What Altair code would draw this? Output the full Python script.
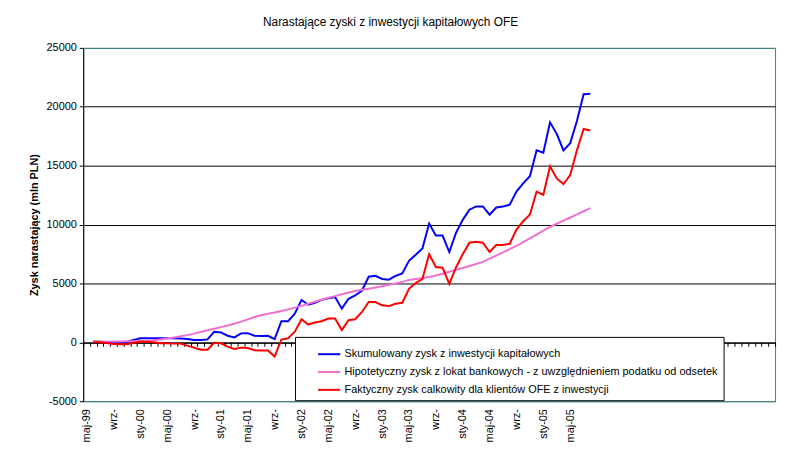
import altair as alt
import pandas as pd

title_text = "Narastające zyski z inwestycji kapitałowych OFE"
y_title = "Zysk narastający (mln PLN)"

series_names = [
    "Skumulowany zysk z inwestycji kapitałowych",
    "Hipotetyczny zysk z lokat bankowych - z uwzględnieniem podatku od odsetek",
    "Faktyczny zysk calkowity dla klientów OFE z inwestycji",
]
series_colors = ["#0000FF", "#F070D0", "#FF0000"]

# category labels every 4th month starting at maj-99 (index 0)
tick_labels = ["maj-99", "wrz-", "sty-00", "maj-00", "wrz-", "sty-01", "maj-01",
               "wrz-", "sty-02", "maj-02", "wrz-", "sty-03", "maj-03", "wrz-",
               "sty-04", "maj-04", "wrz-", "sty-05", "maj-05"]
n_categories = 103
first_index = 1  # first month with values

blue = [60, 60, 30, 0, 0, 30, 200, 340, 340, 340, 340, 340, 340, 330, 280,
        200, 200, 250, 900, 840, 560, 420, 760, 780, 560, 530, 560, 280, 1790,
        1790, 2440, 3600, 3190, 3360, 3610, 3750, 3840, 2860, 3700, 3980, 4400,
        5570, 5650, 5380, 5320, 5650, 5850, 6920, 7430, 7970, 10080, 9070, 9070,
        7670, 9300, 10400, 11260, 11540, 11540, 10840, 11450, 11540, 11680,
        12800, 13500, 14110, 16300, 16100, 18680, 17700, 16300, 16900, 18800,
        21060, 21110]

pink = [50, 55, 60, 65, 75, 85, 95, 105, 120, 170, 240, 320, 410, 510, 610,
        740, 880, 1030, 1160, 1290, 1430, 1580, 1760, 1950, 2150, 2300, 2430,
        2530, 2660, 2800, 2950, 3100, 3280, 3450, 3620, 3780, 3920, 4080, 4230,
        4360, 4460, 4550, 4650, 4760, 4880, 5000, 5130, 5300, 5380, 5440, 5540,
        5670, 5820, 5990, 6150, 6310, 6480, 6650, 6830, 7100, 7370, 7640, 7910,
        8180, 8500, 8830, 9150, 9480, 9800, 10070, 10340, 10600, 10870, 11130,
        11400]

red = [56, 0, -60, -140, -170, -170, -30, 56, 56, 0, -80, -80, -110, -110,
       -280, -450, -620, -620, -30, -80, -360, -560, -450, -480, -670, -700,
       -700, -1200, 240, 340, 900, 1960, 1510, 1680, 1790, 2020, 2020, 1040,
       1880, 1960, 2580, 3420, 3420, 3140, 3080, 3280, 3360, 4540, 5030, 5380,
       7480, 6400, 6330, 4960, 6360, 7480, 8460, 8540, 8460, 7670, 8260, 8260,
       8370, 9580, 10280, 10840, 12800, 12520, 14950, 13920, 13440, 14200,
       16300, 18120, 17980]

y_ticks = [-5000, 0, 5000, 10000, 15000, 20000, 25000]

rows = []
for name, vals in zip(series_names, [blue, pink, red]):
    for k, v in enumerate(vals):
        rows.append({"idx": first_index + k, "series": name, "value": v})
df = pd.DataFrame(rows)

label_array = "[" + ",".join("'" + t + "'" for t in tick_labels) + "]"
label_expr = (f"(datum.value % 4 == 0 && datum.value / 4 < {len(tick_labels)}) ? "
              f"{label_array}[datum.value / 4] : ''")

FONT = "Liberation Sans"
BORDER = "#3F7F7F"

x_enc = alt.X(
    "idx:O",
    scale=alt.Scale(type="band", domain=list(range(n_categories)),
                    paddingInner=0, paddingOuter=0),
    bandPosition=0.5,
    axis=alt.Axis(
        title=None, offset=-59.5, tickBand="extent", tickSize=4,
        tickColor="black", domainColor="black", domainWidth=1, tickWidth=1,
        labelAngle=270, labelAlign="right", labelBaseline="middle",
        labelPadding=63, labelExpr=label_expr, labelOverlap=False,
        labelFont=FONT, labelFontSize=11, labelColor="black", grid=False,
    ),
)

y_enc = alt.Y(
    "value:Q",
    scale=alt.Scale(domain=[-5000, 25000], nice=False, zero=False),
    axis=alt.Axis(
        title=y_title, values=y_ticks, tickSize=4, tickColor="black",
        domainColor="black", labelFont=FONT, labelFontSize=11,
        labelColor="black", labelPadding=3, labelExpr="'' + datum.value",
        titleFont=FONT, titleFontSize=11,
        titleFontWeight="bold", titleColor="black", titlePadding=7,
        grid=True,
        gridColor={"condition": {"test": "datum.value == 25000 || datum.value == -5000",
                                 "value": BORDER},
                   "value": "black"},
        gridWidth=1,
    ),
)

chart = alt.Chart(df).mark_line(strokeWidth=2).encode(
    x=x_enc,
    y=y_enc,
    color=alt.Color(
        "series:N",
        scale=alt.Scale(domain=series_names, range=series_colors),
        legend=alt.Legend(
            title=None, orient="none", legendX=214, legendY=292,
            fillColor="white", strokeColor="black", padding=5,
            symbolType="stroke", symbolSize=500, symbolStrokeWidth=2,
            symbolOffset=17, labelFont=FONT, labelFontSize=11,
            labelColor="black", labelOffset=3, rowPadding=0,
            labelLimit=500,
        ),
    ),
    order=alt.Order("idx:Q"),
).properties(
    width=699,
    height=357,
    autosize="none",
    padding={"left": 76, "top": 38, "right": 5, "bottom": 49},
    title=alt.Title(title_text, font=FONT, fontSize=12, fontWeight="normal",
                    color="black", anchor="middle", dx=-39, offset=13),
).configure_view(stroke=BORDER, strokeWidth=1)

chart.save("out.html", embed_options={"renderer": "svg", "actions": False})
